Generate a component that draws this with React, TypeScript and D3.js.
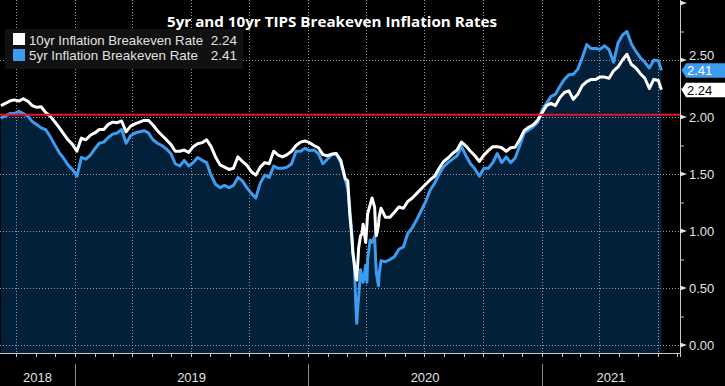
import React from "react";
import * as d3 from "d3";

const W = 725;
const H = 386;

// weekly (Friday) closes, Sep 7 2018 .. Jul 2 2021
const tenYearWeekly = [
  2.10, 2.12, 2.14, 2.15, 2.14, 2.16, 2.14, 2.10, 2.085, 2.09,
  2.04, 2.01, 1.96, 1.91, 1.855, 1.80, 1.76, 1.70, 1.815, 1.80,
  1.84, 1.86, 1.89, 1.89, 1.935, 1.955, 1.95, 1.965, 1.87, 1.92,
  1.94, 1.955, 1.97, 1.97, 1.93, 1.88, 1.84, 1.80, 1.76, 1.70,
  1.70, 1.71, 1.69, 1.74, 1.765, 1.775, 1.80, 1.74, 1.65, 1.58,
  1.56, 1.54, 1.55, 1.65, 1.61, 1.575, 1.52, 1.49, 1.56, 1.60,
  1.59, 1.70, 1.665, 1.65, 1.67, 1.70, 1.75, 1.78, 1.79, 1.775,
  1.75, 1.73, 1.67, 1.66, 1.675, 1.68, 1.62, 1.46, 1.155, 0.72,
  0.85, 1.06, 1.15, 1.29, 0.96, 1.20, 1.12, 1.12, 1.165, 1.21,
  1.20, 1.26, 1.29, 1.33, 1.37, 1.41, 1.45, 1.48, 1.55, 1.61,
  1.64, 1.68, 1.71, 1.78, 1.745, 1.70, 1.66, 1.61, 1.665, 1.705,
  1.74, 1.74, 1.73, 1.70, 1.73, 1.735, 1.80, 1.88, 1.91, 1.93,
  1.97, 2.035, 2.10, 2.12, 2.10, 2.17, 2.215, 2.23, 2.155, 2.20,
  2.275, 2.31, 2.33, 2.33, 2.35, 2.35, 2.34, 2.405, 2.44, 2.50,
  2.55, 2.46, 2.43, 2.38, 2.34, 2.25, 2.33, 2.32,
];

const fiveYearWeekly = [
  1.99, 2.01, 2.03, 2.03, 2.05, 2.03, 2.01, 1.96, 1.935, 1.905,
  1.89, 1.83, 1.76, 1.69, 1.64, 1.58, 1.54, 1.48, 1.645, 1.63,
  1.665, 1.72, 1.77, 1.78, 1.82, 1.85, 1.86, 1.89, 1.77, 1.835,
  1.86, 1.87, 1.88, 1.86, 1.80, 1.77, 1.75, 1.72, 1.68, 1.59,
  1.57, 1.62, 1.57, 1.60, 1.645, 1.62, 1.60, 1.49, 1.41, 1.38,
  1.40, 1.38, 1.40, 1.47, 1.44, 1.38, 1.33, 1.29, 1.42, 1.49,
  1.47, 1.57, 1.55, 1.55, 1.56, 1.59, 1.70, 1.70, 1.725, 1.705,
  1.71, 1.68, 1.59, 1.63, 1.67, 1.675, 1.60, 1.45, 1.21, 0.73,
  0.42, 0.55, 0.75, 0.90, 0.62, 0.74, 0.73, 0.75, 0.775, 0.84,
  0.86, 0.98, 1.03, 1.10, 1.18, 1.26, 1.36, 1.42, 1.50, 1.565,
  1.60, 1.63, 1.66, 1.74, 1.66, 1.59, 1.545, 1.48, 1.55, 1.55,
  1.60, 1.68, 1.60, 1.65, 1.60, 1.64, 1.745, 1.86, 1.885, 1.915,
  1.95, 2.06, 2.12, 2.18, 2.20, 2.27, 2.33, 2.37, 2.375, 2.42,
  2.52, 2.635, 2.60, 2.60, 2.595, 2.625, 2.59, 2.48, 2.65, 2.72,
  2.75, 2.64, 2.575, 2.52, 2.48, 2.43, 2.50, 2.495,
];

// extra days around the March 2020 sell-off
const crashDates = [
  "2020-03-03", "2020-03-09", "2020-03-11", "2020-03-16", "2020-03-17", "2020-03-18",
  "2020-03-19", "2020-03-23", "2020-03-25", "2020-03-31", "2020-04-01", "2020-04-02",
  "2020-04-07", "2020-04-14", "2020-04-16", "2020-04-20", "2020-04-21",
];
const tenYearCrash = [1.44, 0.97, 0.80, 0.58, 0.57, 0.66, 0.75, 0.96, 0.97, 0.90, 0.98, 1.06, 1.23, 1.21, 0.97, 1.05, 1.12];
const fiveYearCrash = [1.37, 1.00, 0.83, 0.30, 0.19, 0.28, 0.36, 0.66, 0.60, 0.70, 0.60, 0.55, 0.92, 0.95, 0.70, 0.52, 0.62];

const lastDate = "2021-07-07";
const lastTen = 2.24;
const lastFive = 2.41;
const redLevel = 2.02;

const yTicks = [0, 0.5, 1, 1.5, 2, 2.5];
const yMinor = [0.25, 0.75, 1.25, 1.75, 2.25, 2.75];
const years = ["2018", "2019", "2020", "2021"];
const title = "5yr and 10yr TIPS Breakeven Inflation Rates";
const legendNames = ["10yr Inflation Breakeven Rate", "5yr Inflation Breakeven Rate"];

const BLUE = "#3d9cf0";
const NAVY = "#02203a";
const RED = "#e8142f";
const GRID = "#9a9a9a";
const AXIS = "#c8c8c8";
const LABEL = "#e2e2e2";

type Row = { date: Date; ten: number; five: number };

const parse = d3.timeParse("%Y-%m-%d");
const weeklyDates = d3.timeFriday.range(new Date(2018, 8, 7), new Date(2021, 6, 3));

const rows: Row[] = [
  ...weeklyDates.map((d, i) => ({ date: d, ten: tenYearWeekly[i], five: fiveYearWeekly[i] })),
  ...crashDates.map((s, i) => ({ date: parse(s) as Date, ten: tenYearCrash[i], five: fiveYearCrash[i] })),
  { date: parse(lastDate) as Date, ten: lastTen, five: lastFive },
].sort((a, b) => +a.date - +b.date);

const plotRight = 680;
const plotBottom = 353;

export default function App() {
  const x = d3.scaleTime().domain([new Date(2019, 0, 1), new Date(2021, 0, 1)]).range([75, 542]);
  const y = d3.scaleLinear().domain([0, 3]).range([345, 3]);

  const area = d3.area<Row>().x((d) => x(d.date)).y0(plotBottom).y1((d) => y(d.five));
  const lineFive = d3.line<Row>().x((d) => x(d.date)).y((d) => y(d.five));
  const lineTen = d3.line<Row>().x((d) => x(d.date)).y((d) => y(d.ten));

  const quarters = d3.timeMonth.every(3)!.range(new Date(2018, 8, 1), new Date(2021, 7, 2));
  const months = d3.timeMonth.range(new Date(2018, 8, 1), new Date(2021, 7, 2)).filter((d) => x(d) >= 0 && x(d) <= plotRight);
  const yearStarts = [new Date(2019, 0, 1), new Date(2020, 0, 1), new Date(2021, 0, 1)];
  const bounds = [0, ...yearStarts.map((d) => x(d)), plotRight];

  const tag = (v: number, fill: string, color: string) => {
    const cy = y(v);
    const pts = [
      [681.5, cy], [686, cy - 7], [W, cy - 7], [W, cy + 7.5], [686, cy + 7.5],
    ].map((p) => p.join(",")).join(" ");
    return (
      <g>
        <polygon points={pts} fill={fill} />
        <text x={687} y={cy + 0.5} dy="0.36em" fill={color} fontSize={13}>
          {v.toFixed(2)}
        </text>
      </g>
    );
  };

  return (
    <div style={{ position: "absolute", left: 0, top: 0 }}>
      <svg width={W} height={H} style={{ display: "block" }} fontFamily="'Liberation Sans', Arial, sans-serif">
        <rect x={0} y={0} width={W} height={H} fill="#000" />

        <path d={area(rows) || ""} fill={NAVY} />

        {/* dotted grid */}
        {yTicks.map((t) => (
          <line key={"gy" + t} x1={0} x2={plotRight} y1={y(t) + 0.5} y2={y(t) + 0.5} stroke={GRID} strokeDasharray="1 2" />
        ))}
        {quarters.map((d) => (
          <line key={"gx" + +d} x1={Math.round(x(d)) + 0.5} x2={Math.round(x(d)) + 0.5} y1={0} y2={plotBottom} stroke={GRID} strokeDasharray="1 2" />
        ))}

        <path d={lineFive(rows) || ""} fill="none" stroke={BLUE} strokeWidth={3} strokeLinejoin="round" />
        <path d={lineTen(rows) || ""} fill="none" stroke="#fff" strokeWidth={3} strokeLinejoin="round" />

        <line x1={0} x2={plotRight} y1={y(redLevel)} y2={y(redLevel)} stroke={RED} strokeWidth={2} />

        {/* right axis */}
        <line x1={plotRight + 0.5} x2={plotRight + 0.5} y1={0} y2={plotBottom + 4} stroke={AXIS} />
        {yMinor.map((t) => (
          <line key={"mn" + t} x1={plotRight} x2={plotRight + 4} y1={y(t) + 0.5} y2={y(t) + 0.5} stroke={AXIS} />
        ))}
        {[...yTicks, 3].map((t) => (
          <polygon
            key={"fl" + t}
            points={`${plotRight},${y(t) - 2.5} ${plotRight + 7},${y(t)} ${plotRight},${y(t) + 2.5}`}
            fill={LABEL}
          />
        ))}
        {yTicks.map((t) => (
          <text key={"yl" + t} x={689} y={y(t) - (t === 2.5 ? 5 : 0)} dy="0.36em" fill={LABEL} fontSize={13}>
            {t.toFixed(2)}
          </text>
        ))}

        {/* bottom axis */}
        <line x1={0} x2={plotRight} y1={plotBottom + 0.5} y2={plotBottom + 0.5} stroke={AXIS} />
        {months.map((d) => (
          <line key={"mt" + +d} x1={Math.round(x(d)) + 0.5} x2={Math.round(x(d)) + 0.5} y1={plotBottom} y2={plotBottom + 4} stroke={AXIS} />
        ))}
        {yearStarts.map((d) => (
          <line key={"ys" + +d} x1={Math.round(x(d)) + 0.5} x2={Math.round(x(d)) + 0.5} y1={364} y2={H} stroke="#8a8a8a" />
        ))}
        {years.map((yr, i) => (
          <text key={yr} x={(bounds[i] + bounds[i + 1]) / 2} y={382} textAnchor="middle" fill={LABEL} fontSize={13}>
            {yr}
          </text>
        ))}

        {tag(lastFive, BLUE, "#ffffff")}
        {tag(lastTen, "#ffffff", "#000000")}

        {/* legend */}
        <rect x={5} y={29} width={238} height={40} fill="#111111" />
        <rect x={13} y={33} width={12} height={12} fill="#fff" />
        <rect x={13} y={49} width={12} height={12} fill={BLUE} />
        <text x={29} y={45} fill={LABEL} fontSize={13.5} textLength={174} lengthAdjust="spacingAndGlyphs">{legendNames[0]}</text>
        <text x={29} y={60} fill={LABEL} fontSize={13.5} textLength={169} lengthAdjust="spacingAndGlyphs">{legendNames[1]}</text>
        <text x={237} y={45} fill={LABEL} fontSize={13.5} textAnchor="end">{lastTen.toFixed(2)}</text>
        <text x={237} y={60} fill={LABEL} fontSize={13.5} textAnchor="end">{lastFive.toFixed(2)}</text>

        {/* title */}
        <text x={332} y={27} textAnchor="middle" fill="#fff" fontSize={15} fontWeight="bold"
          fontFamily="'Open Sans', 'Liberation Sans', sans-serif" textLength={330} lengthAdjust="spacingAndGlyphs">
          {title}
        </text>
      </svg>
    </div>
  );
}
